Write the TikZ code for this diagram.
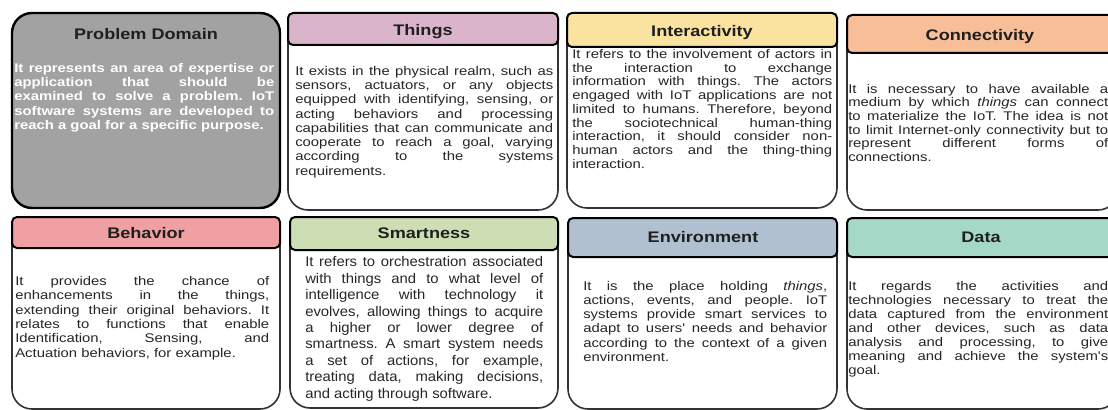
\documentclass[tikz,border=0pt]{standalone}
\usepackage{fontspec}
\setmainfont{Liberation Sans}
\newfontfamily\cardfont[FakeStretch=1.18]{Liberation Sans}
\newfontfamily\smartfont[FakeStretch=1.06]{Liberation Sans}
\definecolor{domaingray}{HTML}{A2A2A2}
\definecolor{thingsc}{HTML}{D9B4CB}
\definecolor{interc}{HTML}{FAE3A0}
\definecolor{connc}{HTML}{F7BE98}
\definecolor{behavc}{HTML}{F0A0A2}
\definecolor{smartc}{HTML}{CDDEB4}
\definecolor{envc}{HTML}{B0C0D0}
\definecolor{datac}{HTML}{A6D8C8}
\frenchspacing
\begin{document}
\begin{tikzpicture}[x=0.75pt,y=0.75pt,yscale=-1,xscale=1,
  cardbody/.style={draw=black!80,line width=1.2pt,fill=white,rounded corners=15pt},
  cardhead/.style={draw=black,line width=1.5pt,rounded corners=3.75pt},
  title/.style={inner sep=0.75pt,text=black!88,text height=8.2pt,text depth=0pt,
    font=\cardfont\fontsize{11.5}{13}\selectfont\bfseries},
  bodytext/.style={anchor=north west,inner sep=0.75pt,align=justify,text=black!85,
    font=\cardfont\fontsize{9.45}{10.7}\selectfont}]
\useasboundingbox (0,0) rectangle (1108,410);
\clip (0,0) rectangle (1108,410);

	\draw [line width=1.8pt,fill=domaingray,rounded corners=15pt] (12,13) rectangle (280,208) ;
	\draw (146,34) node (domainT) [title] {Problem Domain};
	\draw (13,62) node (domainB) [bodytext,text=white,text width=195pt,font=\cardfont\fontsize{9.45}{10.7}\selectfont\bfseries] {It represents an area of expertise or\linebreak application that should be\linebreak examined to solve a problem. IoT\linebreak software systems are developed to\linebreak reach a goal for a specific purpose.};

	\draw [cardbody] (288,13) rectangle (558,210) ;
	\draw [cardhead,fill=thingsc] (288,13) rectangle (558,45) ;
	\draw (423,30.5) node (thingsT) [title] {Things};
	\draw (294,65) node (thingsB) [bodytext,text width=193.5pt] {It exists in the physical realm, such as\linebreak sensors, actuators, or any objects\linebreak equipped with identifying, sensing, or\linebreak acting behaviors and processing\linebreak capabilities that can communicate and\linebreak cooperate to reach a goal, varying\linebreak according to the systems\linebreak requirements.};

	\draw [cardbody] (567,13) rectangle (837,208) ;
	\draw [cardhead,fill=interc] (567,13) rectangle (837,47) ;
	\draw (702,31) node (interT) [title] {Interactivity};
	\draw (571,48) node (interB) [bodytext,text width=195pt,font=\cardfont\fontsize{9.45}{10.3}\selectfont] {It refers to the involvement of actors in\linebreak the interaction to exchange\linebreak information with things. The actors\linebreak engaged with IoT applications are not\linebreak limited to humans. Therefore, beyond\linebreak the sociotechnical human-thing\linebreak interaction, it should consider non-\linebreak human actors and the thing-thing\linebreak interaction.};

	\draw [cardbody] (847,15) rectangle (1118,210) ;
	\draw [cardhead,fill=connc] (847,15) rectangle (1118,53) ;
	\draw (980,35) node (connT) [title] {Connectivity};
	\draw (847,83) node (connB) [bodytext,text width=195pt,font=\cardfont\fontsize{9.45}{10.2}\selectfont] {It is necessary to have available a\linebreak medium by which \textit{things} can connect\linebreak to materialize the IoT. The idea is not\linebreak to limit Internet-only connectivity but to\linebreak represent different forms of\linebreak connections.};

	\draw [cardbody] (12,217) rectangle (280,409) ;
	\draw [cardhead,fill=behavc] (12,217) rectangle (280,248) ;
	\draw (146,233) node (behavT) [title] {Behavior};
	\draw (14,275) node (behavB) [bodytext,text width=190.5pt,font=\cardfont\fontsize{9.45}{10.8}\selectfont] {It provides the chance of\linebreak enhancements in the things,\linebreak extending their original behaviors. It\linebreak relates to functions that enable\linebreak Identification, Sensing, and\linebreak Actuation behaviors, for example.};

	\draw [cardbody] (290,217) rectangle (558,408) ;
	\draw [cardhead,fill=smartc] (290,217) rectangle (558,250) ;
	\draw (424,233.5) node (smartT) [title] {Smartness};
	\draw (304,255.5) node (smartB) [bodytext,text width=178.5pt,font=\smartfont\fontsize{10.5}{12.3}\selectfont] {It refers to orchestration associated\linebreak with things and to what level of\linebreak intelligence with technology it\linebreak evolves, allowing things to acquire\linebreak a higher or lower degree of\linebreak smartness. A smart system needs\linebreak a set of actions, for example,\linebreak treating data, making decisions,\linebreak and acting through software.};

	\draw [cardbody] (568,218) rectangle (837,409) ;
	\draw [cardhead,fill=envc] (568,218) rectangle (837,257) ;
	\draw (703,237) node (envT) [title] {Environment};
	\draw (582,280) node (envB) [bodytext,text width=183pt,font=\cardfont\fontsize{9.45}{10.65}\selectfont] {It is the place holding \textit{things},\linebreak actions, events, and people. IoT\linebreak systems provide smart services to\linebreak adapt to users' needs and behavior\linebreak according to the context of a given\linebreak environment.};

	\draw [cardbody] (847,218) rectangle (1118,409) ;
	\draw [cardhead,fill=datac] (847,218) rectangle (1118,257) ;
	\draw (981,237) node (dataT) [title] {Data};
	\draw (847,280) node (dataB) [bodytext,text width=195pt,font=\cardfont\fontsize{9.45}{10.5}\selectfont] {It regards the activities and\linebreak technologies necessary to treat the\linebreak data captured from the environment\linebreak and other devices, such as data\linebreak analysis and processing, to give\linebreak meaning and achieve the system's\linebreak goal.};
\end{tikzpicture}
\end{document}
